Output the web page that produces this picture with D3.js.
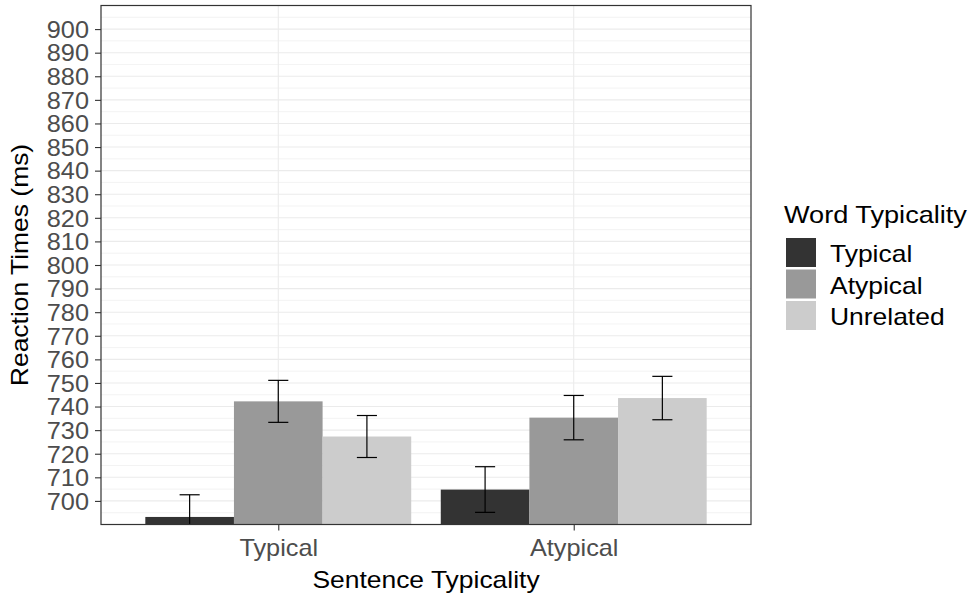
<!DOCTYPE html>
<html>
<head>
<meta charset="utf-8">
<script src="https://cdn.jsdelivr.net/npm/d3@7/dist/d3.min.js"></script>
<style>
  html, body { margin: 0; padding: 0; background: #ffffff; }
  svg { display: block; }
  text { font-family: "Liberation Sans", Arial, Helvetica, sans-serif; }
</style>
</head>
<body>
<svg id="chart" width="973" height="598"></svg>
<script>
// Sentence typicality groups on the x axis
const sentenceTypes = ["Typical", "Atypical"];
// Word typicality series (dodged bars)
const wordTypes = ["Typical", "Atypical", "Unrelated"];
// Mean reaction times (ms), one array per sentence group, ordered as wordTypes
const meansTypicalSentence = [693.2, 742.2, 727.3];
const meansAtypicalSentence = [704.8, 735.3, 743.6];
// Standard errors (ms), same order
const seTypicalSentence = [9.4, 8.9, 8.9];
const seAtypicalSentence = [9.7, 9.4, 9.2];
// Y axis tick values
const yTicks = d3.range(700, 901, 10);
const yMinor = d3.range(695, 906, 10);
const fillColors = ["#333333", "#999999", "#cccccc"];

const rows = [];
sentenceTypes.forEach((s, i) => {
  const means = i === 0 ? meansTypicalSentence : meansAtypicalSentence;
  const ses = i === 0 ? seTypicalSentence : seAtypicalSentence;
  wordTypes.forEach((w, j) => rows.push({ sentence: s, word: w, mean: means[j], se: ses[j] }));
});

const SX = 1.15;     // horizontal glyph stretch for titles and legend
const SXTick = 1.1;  // horizontal glyph stretch for tick labels
const svg = d3.select("#chart");
const panel = { left: 101, right: 751, top: 5.5, bottom: 524.5 };

// discrete x positions 1..n with ggplot-like 0.6 expansion
const x = d3.scaleLinear().domain([0.4, sentenceTypes.length + 0.6]).range([panel.left, panel.right]);
const xi = d3.scaleBand().domain(wordTypes).range([-0.45, 0.45]);
const y = d3.scaleLinear().domain([690, 910]).range([panel.bottom, panel.top]);
const color = d3.scaleOrdinal().domain(wordTypes).range(fillColors);

svg.append("defs").append("clipPath").attr("id", "panelClip")
  .append("rect")
  .attr("x", panel.left).attr("y", panel.top)
  .attr("width", panel.right - panel.left).attr("height", panel.bottom - panel.top);

// grid
const grid = svg.append("g");
grid.selectAll("line.minor").data(yMinor).join("line")
  .attr("x1", panel.left).attr("x2", panel.right)
  .attr("y1", d => y(d)).attr("y2", d => y(d))
  .attr("stroke", "#ebebeb").attr("stroke-width", 0.6);
grid.selectAll("line.major").data(yTicks).join("line")
  .attr("x1", panel.left).attr("x2", panel.right)
  .attr("y1", d => y(d)).attr("y2", d => y(d))
  .attr("stroke", "#ebebeb").attr("stroke-width", 1.1);
grid.selectAll("line.vmajor").data(sentenceTypes).join("line")
  .attr("x1", (d, i) => x(i + 1)).attr("x2", (d, i) => x(i + 1))
  .attr("y1", panel.top).attr("y2", panel.bottom)
  .attr("stroke", "#ebebeb").attr("stroke-width", 1.1);

// bars and error bars
const marks = svg.append("g").attr("clip-path", "url(#panelClip)");
const gx = d => x(sentenceTypes.indexOf(d.sentence) + 1);
const unit = x(1) - x(0);
marks.selectAll("rect.bar").data(rows).join("rect")
  .attr("x", d => gx(d) + xi(d.word) * unit)
  .attr("width", xi.bandwidth() * unit)
  .attr("y", d => y(d.mean))
  .attr("height", d => y(690) - y(d.mean))
  .attr("fill", d => color(d.word));

const capHalf = 0.034 * unit;
const eb = marks.selectAll("g.err").data(rows).join("g")
  .attr("stroke", "#000000").attr("stroke-width", 1.2).attr("fill", "none");
const cx = d => gx(d) + (xi(d.word) + xi.bandwidth() / 2) * unit;
eb.append("line")
  .attr("x1", cx).attr("x2", cx)
  .attr("y1", d => y(d.mean - d.se)).attr("y2", d => y(d.mean + d.se));
eb.append("line")
  .attr("x1", d => cx(d) - capHalf).attr("x2", d => cx(d) + capHalf)
  .attr("y1", d => y(d.mean + d.se)).attr("y2", d => y(d.mean + d.se));
eb.append("line")
  .attr("x1", d => cx(d) - capHalf).attr("x2", d => cx(d) + capHalf)
  .attr("y1", d => y(d.mean - d.se)).attr("y2", d => y(d.mean - d.se));

// panel border
svg.append("rect")
  .attr("x", panel.left).attr("y", panel.top)
  .attr("width", panel.right - panel.left).attr("height", panel.bottom - panel.top)
  .attr("fill", "none").attr("stroke", "#333333").attr("stroke-width", 1.2);

// y axis
const yAxis = svg.append("g").attr("transform", `translate(${panel.left},0)`)
  .call(d3.axisLeft(y).tickValues(yTicks).tickSize(6).tickSizeOuter(0));
yAxis.select(".domain").remove();
yAxis.selectAll(".tick line").attr("stroke", "#333333").attr("stroke-width", 1.1);
yAxis.selectAll(".tick text")
  .attr("x", null).attr("dy", null)
  .attr("transform", `translate(-12,8.3) scale(${SXTick},1)`)
  .attr("fill", "#4d4d4d").style("font-size", "23px")
  .attr("font-family", null);

// x axis
const xAxis = svg.append("g").attr("transform", `translate(0,${panel.bottom})`)
  .call(d3.axisBottom(x).tickValues(sentenceTypes.map((d, i) => i + 1))
    .tickFormat(v => sentenceTypes[v - 1]).tickSize(6).tickSizeOuter(0));
xAxis.select(".domain").remove();
xAxis.selectAll(".tick line").attr("stroke", "#333333").attr("stroke-width", 1.1);
xAxis.selectAll(".tick text")
  .attr("y", null).attr("dy", null)
  .attr("transform", `translate(0,31.5) scale(${SXTick},1)`)
  .attr("fill", "#4d4d4d").style("font-size", "23px")
  .attr("font-family", null);

// axis titles
function label(str, tx, ty, rot, size, anchor) {
  return svg.append("text")
    .attr("transform", `translate(${tx},${ty}) rotate(${rot}) scale(${SX},1)`)
    .attr("text-anchor", anchor)
    .attr("fill", "#000000")
    .style("font-size", size + "px")
    .text(str);
}
label("Sentence Typicality", (panel.left + panel.right) / 2, 588, 0, 23, "middle");
label("Reaction Times (ms)", 28, (panel.top + panel.bottom) / 2, -90, 23, "middle");

// legend
const legend = svg.append("g");
label("Word Typicality", 784, 223, 0, 23.6, "start");
const keyStep = 31.5, keyTop = 238, keySize = 30;
wordTypes.forEach((w, i) => {
  legend.append("rect")
    .attr("x", 786).attr("y", keyTop + i * keyStep)
    .attr("width", keySize).attr("height", keySize - 1)
    .attr("fill", color(w));
  label(w, 830, keyTop + i * keyStep + keySize / 2 + 9, 0, 23, "start");
});
</script>
</body>
</html>
